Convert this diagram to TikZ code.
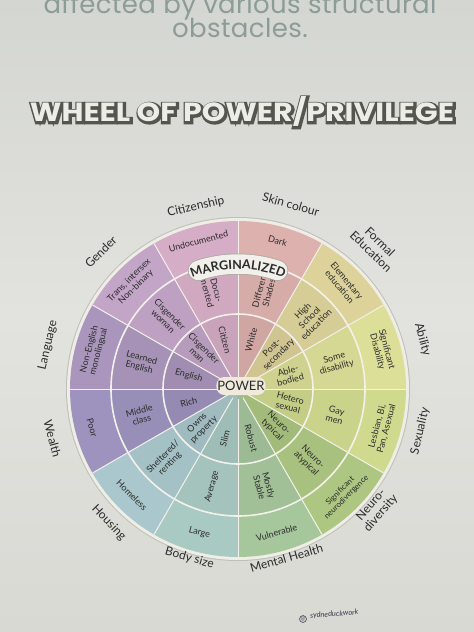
\documentclass[tikz,border=0pt]{standalone}
\usepackage{graphicx}
\usepackage{fontspec}
\setmainfont{Lato}
\newfontfamily\topfont{Poppins}[LetterSpace=1.5]
\newfontfamily\titlefont{Poppins}
\newfontfamily\titleoutline{Poppins}[FakeBold=15,BoldFeatures={FakeBold=15}]
\usetikzlibrary{decorations.text}
\definecolor{bgtop}{HTML}{D4D6D2}
\definecolor{bgmid}{HTML}{E2E2DE}
\definecolor{bgbot}{HTML}{D9D9D4}
\definecolor{toptxt}{HTML}{8D9C98}
\definecolor{titledark}{HTML}{55554F}
\definecolor{titlelight}{HTML}{EDEDE8}
\definecolor{ink}{HTML}{2B2B2B}
\definecolor{citc}{HTML}{D6ADC6}
\definecolor{skinc}{HTML}{DDB1AE}
\definecolor{educ}{HTML}{DDD29A}
\definecolor{abilc}{HTML}{DCDF98}
\definecolor{sexc}{HTML}{D0DA8E}
\definecolor{neuc}{HTML}{ADC782}
\definecolor{mentc}{HTML}{A6C69C}
\definecolor{bodyc}{HTML}{A9C9C3}
\definecolor{housc}{HTML}{A9C7CC}
\definecolor{wealc}{HTML}{9D93BE}
\definecolor{langc}{HTML}{AA96BC}
\definecolor{gendc}{HTML}{C3A5C8}
\definecolor{sepc}{HTML}{F3F1EA}
\definecolor{rimc}{HTML}{EEEDE6}
\definecolor{rimedge}{HTML}{BFBFB8}
\definecolor{capsfill}{HTML}{F1F0EA}
\definecolor{capsedge}{HTML}{A8A8A2}
\definecolor{powerfill}{HTML}{EFEADB}
\definecolor{sigc}{HTML}{3A3A4C}
\newcommand\wheeltitle{\resizebox{424pt}{25pt}{\titlefont\bfseries WHEEL OF POWER/PRIVILEGE}}
\newcommand\wheeltitleback{\resizebox{424pt}{25pt}{\titleoutline\bfseries WHEEL OF POWER/PRIVILEGE}}
\newcommand\annsec[4]{\fill[#1] (#2:#3) arc[start angle=#2, end angle=#2+30, radius=#3] -- (#2+30:#4) arc[start angle=#2+30, end angle=#2, radius=#4] -- cycle;}
\newcommand\wedgesec[3]{\fill[#1] (0,0) -- (#2:#3) arc[start angle=#2, end angle=#2+30, radius=#3] -- cycle;}
\begin{document}
\begin{tikzpicture}[x=1pt,y=-1pt,
  toptext/.style={font=\topfont\fontsize{26}{28}\selectfont, text=toptxt, inner sep=0pt},
  ringtxt/.style={font=\fontsize{9}{9.6}\selectfont, text=ink, align=center, inner sep=0pt},
  lbl/.style={font=\fontsize{12}{13}\selectfont, text=ink, align=center, inner sep=0pt},
  sepline/.style={draw=sepc, line width=1pt},
  ringline/.style={draw=sepc, line width=1.6pt},
  powerbox/.style={fill=powerfill, rounded corners=8pt, minimum width=48pt, minimum height=18pt, inner sep=1pt, font=\fontsize{13}{13}\selectfont, text=ink}]
\useasboundingbox (0,0) rectangle (474,632);
\clip (0,0) rectangle (474,632);
\shade[top color=bgtop, bottom color=bgbot, middle color=bgmid] (0,0) rectangle (474,632);
% top text
\node[toptext, anchor=base] (line1) at (240,13) {affected by various structural};
\node[toptext, anchor=base] (line2) at (240,37) {obstacles.};
% title with outline and shadow
\node[text=titledark, inner sep=0pt] (titleback) at (243,112.4) {\wheeltitleback};
\node[text=titlelight, inner sep=0pt] (title) at (242,111) {\wheeltitle};
% wheel
\begin{scope}[shift={(238,389)}, y=1pt]
  \fill[rimedge] (0,0) circle[radius=172];
  \fill[rimc] (0,0) circle[radius=171];
  \foreach \a/\c in {90/citc,60/skinc,30/educ,0/abilc,-30/sexc,-60/neuc,-90/mentc,-120/bodyc,-150/housc,-180/wealc,150/langc,120/gendc}{
    \annsec{\c}{\a}{127}{168}
    \annsec{\c!97!black}{\a}{75}{127}
    \wedgesec{\c!94!black}{\a}{75}
  }
  \foreach \a in {0,30,...,330} \draw[sepline] (\a:10) -- (\a:168);
  \draw[ringline] (0,0) circle[radius=75];
  \draw[ringline] (0,0) circle[radius=127];
  % outer ring
  \node[ringtxt, rotate=15] (o1) at (105:153) {Undocumented};
  \node[ringtxt, rotate=-15] (o2) at (75:153) {Dark};
  \node[ringtxt, rotate=-50] (o3) at (45:149) {Elementary\\education};
  \node[ringtxt, rotate=-75] (o4) at (15:149) {Significant\\Disability};
  \node[ringtxt, rotate=75] (o5) at (-15:149) {Lesbian, Bi,\\Pan, Asexual};
  \node[ringtxt, rotate=45, font=\fontsize{8}{8.8}\selectfont] (o6) at (-45:149) {Significant\\neurodivergence};
  \node[ringtxt, rotate=15] (o7) at (-75:149) {Vulnerable};
  \node[ringtxt, rotate=-15] (o8) at (-105:149) {Large};
  \node[ringtxt, rotate=-45] (o9) at (-135:150) {Homeless};
  \node[ringtxt, rotate=-75] (o10) at (-165:151) {Poor};
  \node[ringtxt, rotate=75] (o11) at (165:149) {Non-English\\monolingual};
  \node[ringtxt, rotate=45] (o12) at (135:149) {Trans, intersex\\Non-binary};
  % middle ring
  \node[ringtxt, rotate=-75] (m1) at (105:101) {Docu-\\mented};
  \node[ringtxt, rotate=75] (m2) at (75:101) {Different\\Shades};
  \node[ringtxt, rotate=45] (m3) at (45:101) {High\\School\\education};
  \node[ringtxt, rotate=15] (m4) at (15:101) {Some\\disability};
  \node[ringtxt, rotate=-15] (m5) at (-15:101) {Gay\\men};
  \node[ringtxt, rotate=-45] (m6) at (-45:101) {Neuro-\\atypical};
  \node[ringtxt, rotate=-75] (m7) at (-75:101) {Mostly\\Stable};
  \node[ringtxt, rotate=75] (m8) at (-105:101) {Average};
  \node[ringtxt, rotate=45] (m9) at (-135:101) {Sheltered/\\renting};
  \node[ringtxt, rotate=15] (m10) at (-165:101) {Middle\\class};
  \node[ringtxt, rotate=-15] (m11) at (165:101) {Learned\\English};
  \node[ringtxt, rotate=-45] (m12) at (135:101) {Cisgender\\woman};
  % inner ring
  \node[ringtxt, rotate=-75] (i1) at (105:51) {Citizen};
  \node[ringtxt, rotate=75] (i2) at (75:51) {White};
  \node[ringtxt, rotate=45] (i3) at (45:53) {Post-\\secondary};
  \node[ringtxt, rotate=15] (i4) at (15:53) {Able-\\bodied};
  \node[ringtxt, rotate=-15] (i5) at (-15:53) {Hetero\\sexual};
  \node[ringtxt, rotate=-45] (i6) at (-45:53) {Neuro-\\typical};
  \node[ringtxt, rotate=-75] (i7) at (-75:51) {Robust};
  \node[ringtxt, rotate=75] (i8) at (-105:51) {Slim};
  \node[ringtxt, rotate=45] (i9) at (-135:53) {Owns\\property};
  \node[ringtxt, rotate=15] (i10) at (-165:51) {Rich};
  \node[ringtxt, rotate=-15] (i11) at (165:51) {English};
  \node[ringtxt, rotate=-45] (i12) at (135:53) {Cisgender\\man};
  % category labels
  \node[lbl, rotate=13] (l1) at (103:187) {Citizenship};
  \node[lbl, rotate=-16] (l2) at (74:192) {Skin colour};
  \node[lbl, rotate=-44] (l3) at (46:198) {Formal\\Education};
  \node[lbl, rotate=-75] (l4) at (15:191) {Ability};
  \node[lbl, rotate=77] (l5) at (-13:187) {Sexuality};
  \node[lbl, rotate=49] (l6) at (-41:183) {Neuro-\\diversity};
  \node[lbl, rotate=16] (l7) at (-74:176) {Mental Health};
  \node[lbl, rotate=-16] (l8) at (-106:176) {Body size};
  \node[lbl, rotate=-46] (l9) at (-134:186) {Housing};
  \node[lbl, rotate=-75] (l10) at (-165:192) {Wealth};
  \node[lbl, rotate=77] (l11) at (167:195) {Language};
  \node[lbl, rotate=45] (l12) at (135:194) {Gender};
  % marginalized capsule
  \draw[line width=21pt, color=capsedge, line cap=round] (108.5:125) arc[start angle=108.5, end angle=71.5, radius=125];
  \draw[line width=19.5pt, color=capsfill, line cap=round] (108.5:125) arc[start angle=108.5, end angle=71.5, radius=125];
  \path[decorate, decoration={text along path, text align=center, text={|\fontsize{12.5}{14}\selectfont\bfseries\color{ink}|MARGINALIZED}}] (118:120) arc[start angle=118, end angle=62, radius=120];
  \node[powerbox] (power) at (3,3) {POWER};
\end{scope}
% signature
\node[circle, draw=sigc, line width=0.6pt, inner sep=0.4pt, font=\fontsize{5}{5}\selectfont, text=sigc] (sigmark) at (303,619) {@};
\node[font=\itshape\fontsize{7.5}{8}\selectfont, text=sigc, anchor=west, rotate=4, inner sep=0pt] (sig) at (310,616) {sydneduckwork};
\end{tikzpicture}
\end{document}
